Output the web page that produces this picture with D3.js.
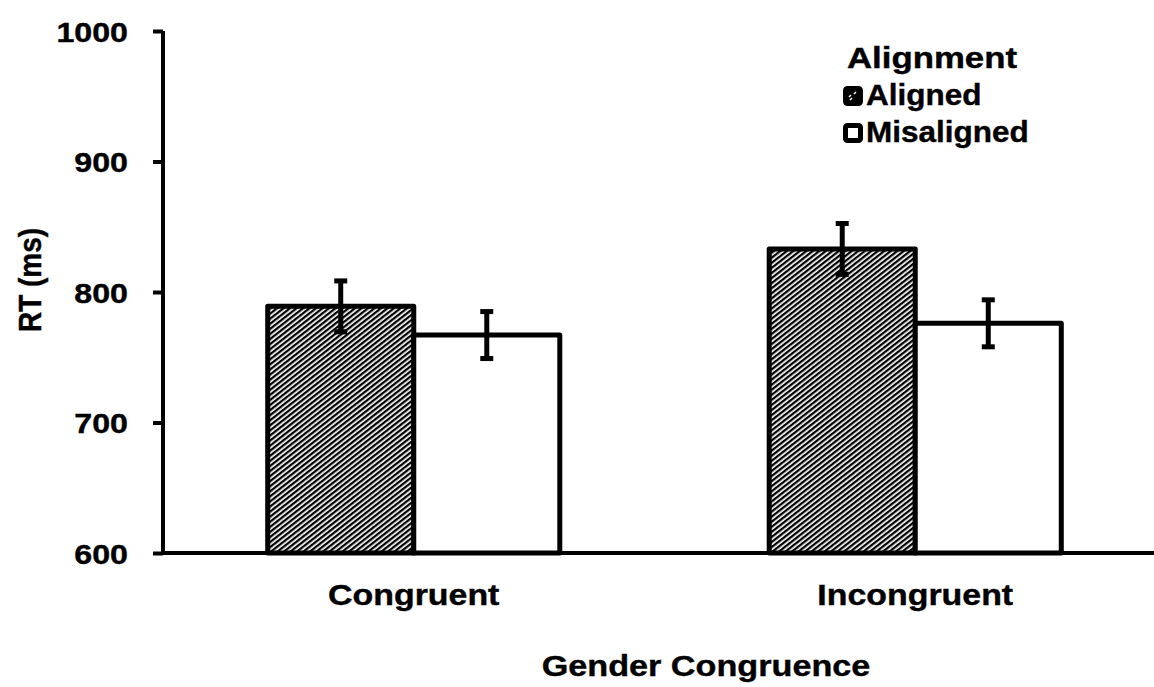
<!DOCTYPE html>
<html>
<head>
<meta charset="utf-8">
<script src="https://cdn.jsdelivr.net/npm/d3@7"></script>
<style>
  body { margin: 0; background: #fff; }
  svg text { font-family: "Liberation Sans", Arial, sans-serif; font-weight: bold; fill: #000; stroke: #000; stroke-width: 0.4px; }
</style>
</head>
<body>
<div id="chart"></div>
<script>
const categories = ["Congruent", "Incongruent"];
const series = ["Aligned", "Misaligned"];
const means = [[789, 767], [833, 776]];
const errors = [[19.5, 18], [19.5, 18]];
const yTicks = [600, 700, 800, 900, 1000];

const width = 1154, height = 687;
const svg = d3.select("#chart").append("svg")
    .attr("width", width)
    .attr("height", height);

// the original figure is a bit wider than tall, so text is stretched sideways
function stretchText(sel, sx) {
    sel.each(function() {
        const t = d3.select(this);
        const x = +t.attr("x") || 0, yy = +t.attr("y") || 0;
        t.attr("x", null).attr("y", null)
            .attr("transform", `translate(${x},${yy}) scale(${sx},1)`);
    });
}

// hatch pattern for the aligned bars
const defs = svg.append("defs");
defs.append("pattern")
    .attr("id", "hatch")
    .attr("patternUnits", "userSpaceOnUse")
    .attr("width", 4)
    .attr("height", 4)
    .attr("patternTransform", "rotate(52)")
  .call(p => {
      p.append("rect").attr("width", 4).attr("height", 4).attr("fill", "#fff");
      p.append("rect").attr("width", 2.3).attr("height", 4).attr("fill", "#000");
  });

const y = d3.scaleLinear().domain([600, 1000]).range([553, 31]);
const x0 = d3.scaleBand().domain(categories).range([163, 1166]).paddingInner(0).paddingOuter(0);
const x1 = d3.scaleBand().domain(series).range([0, x0.bandwidth()]).paddingInner(0).paddingOuter(0.717);

const fills = { "Aligned": "url(#hatch)", "Misaligned": "#fff" };

// bars
const groups = svg.append("g").selectAll("g")
    .data(categories)
    .join("g")
    .attr("transform", d => `translate(${x0(d)},0)`);

const rows = (c, i) => series.map((s, j) => ({ s, v: means[i][j], e: errors[i][j] }));

groups.selectAll("rect")
    .data(rows)
    .join("rect")
    .attr("x", d => x1(d.s))
    .attr("y", d => y(d.v))
    .attr("width", x1.bandwidth())
    .attr("height", d => y(600) - y(d.v))
    .attr("fill", d => fills[d.s])
    .attr("stroke", "#000")
    .attr("stroke-width", 5)
    .attr("stroke-linejoin", "round");

// error bars
const eb = groups.selectAll("g.err")
    .data(rows)
    .join("g")
    .attr("class", "err")
    .attr("stroke", "#000")
    .attr("stroke-width", 5);

eb.append("line")
    .attr("x1", d => x1(d.s) + x1.bandwidth() / 2)
    .attr("x2", d => x1(d.s) + x1.bandwidth() / 2)
    .attr("y1", d => y(d.v + d.e))
    .attr("y2", d => y(d.v - d.e));
eb.each(function(d) {
    const cx = x1(d.s) + x1.bandwidth() / 2;
    [d.v + d.e, d.v - d.e].forEach(v => {
        d3.select(this).append("line")
            .attr("x1", cx - 6.5).attr("x2", cx + 6.5)
            .attr("y1", y(v)).attr("y2", y(v));
    });
});

// y axis
const yAxis = svg.append("g")
    .attr("transform", "translate(163,0)")
    .call(d3.axisLeft(y).tickValues(yTicks).tickSize(10).tickPadding(35).tickFormat(d3.format("d")));
yAxis.select(".domain").attr("stroke-width", 4).attr("d", `M0,${y(1000)}V${y(600)}`);
yAxis.selectAll(".tick line").attr("stroke-width", 4);
yAxis.selectAll(".tick text")
    .style("font-size", "28px")
    .attr("x", null)
    .attr("dy", "0.36em")
    .attr("transform", "translate(-35,0) scale(1.15,1)");

// x axis baseline
svg.append("line")
    .attr("x1", 161).attr("x2", width)
    .attr("y1", y(600)).attr("y2", y(600))
    .attr("stroke", "#000").attr("stroke-width", 4);

// category labels
svg.append("g").selectAll("text")
    .data(categories)
    .join("text")
    .attr("x", d => x0(d) + x0.bandwidth() / 2)
    .attr("y", 605)
    .attr("text-anchor", "middle")
    .style("font-size", "30px")
    .text(d => d)
    .call(sel => stretchText(sel, 1.13));

// axis titles
svg.append("text")
    .attr("x", 706).attr("y", 676)
    .attr("text-anchor", "middle")
    .style("font-size", "30px")
    .text("Gender Congruence")
    .call(sel => stretchText(sel, 1.14));

svg.append("text")
    .attr("transform", "translate(41,280) scale(1.15,1) rotate(-90)")
    .attr("text-anchor", "middle")
    .style("font-size", "28px")
    .text("RT (ms)");

// legend
const legend = svg.append("g");
legend.append("text")
    .attr("x", 932).attr("y", 68)
    .attr("text-anchor", "middle")
    .style("font-size", "30px")
    .text("Alignment")
    .call(sel => stretchText(sel, 1.16));

const items = legend.selectAll("g.item")
    .data(series)
    .join("g")
    .attr("class", "item")
    .attr("transform", (d, i) => `translate(843,${86 + i * 37})`);
items.append("rect")
    .attr("x", 2.5).attr("y", 2.5)
    .attr("width", 15).attr("height", 15)
    .attr("rx", 2)
    .attr("fill", d => d === "Aligned" ? "#000" : "#fff")
    .attr("stroke", "#000")
    .attr("stroke-width", 5);
items.filter(d => d === "Aligned").append("path")
    .attr("d", "M6,11L8,9M11,8L13,6M7,14L9,12")
    .attr("stroke", "#fff")
    .attr("stroke-width", 1.5);
items.append("text")
    .attr("x", 23).attr("y", 19)
    .style("font-size", "30px")
    .text(d => d)
    .call(sel => stretchText(sel, 1.05));
</script>
</body>
</html>
